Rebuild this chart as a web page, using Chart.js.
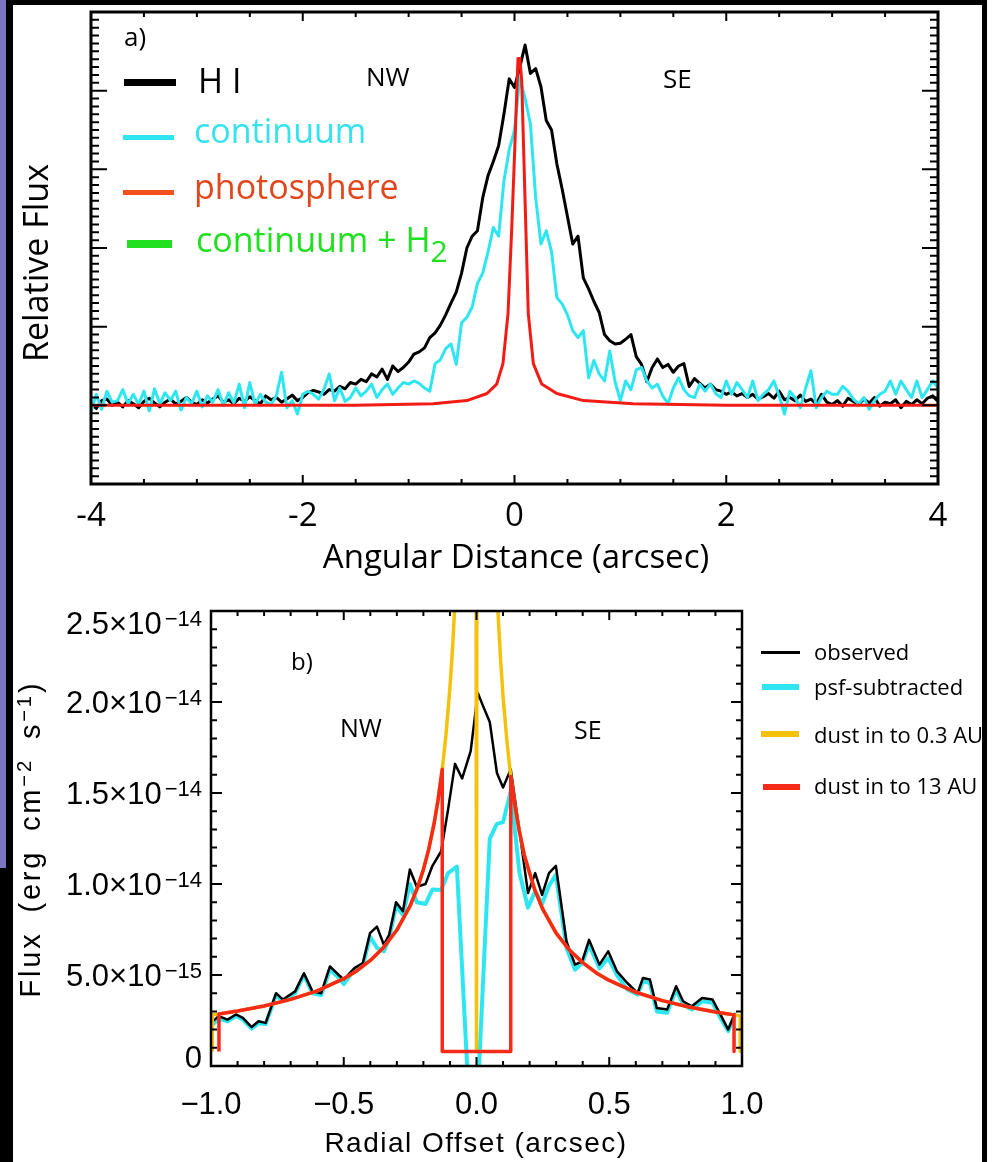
<!DOCTYPE html>
<html>
<head>
<meta charset="utf-8">
<title>H I and continuum radial profiles</title>
<script src="https://cdn.jsdelivr.net/npm/chart.js@4.4.1/dist/chart.umd.min.js"></script>
<style>
  html, body { margin: 0; padding: 0; background: #000; }
  body { width: 994px; height: 1162px; position: relative; overflow: hidden; }
  .block { position: absolute; }
  canvas { position: absolute; left: 0; }
  #labels { position: absolute; left: 0; top: 0; width: 982px; height: 1162px; overflow: hidden; }
  .lbl { position: absolute; white-space: nowrap; color: #000; }
  .mark { position: absolute; }
  .sub { position: relative; top: 10px; font-size: 30px; }
  .sup { position: relative; top: -0.45em; font-size: 0.7em; }
</style>
</head>
<body>
<div class="block" style="left:0;top:0;width:6px;height:868px;background:#7b75c2"></div>
<div class="block" style="left:13px;top:5px;width:969px;height:1157px;background:#fff"></div>
<div class="block" style="left:987px;top:0;width:7px;height:1162px;background:#fff"></div>
<canvas id="chart-a" width="994" height="590" style="top:0"></canvas>
<canvas id="chart-b" width="994" height="572" style="top:590px"></canvas>
<div id="labels"></div>
<script>
// ---- panel a) relative flux vs angular distance (arcsec)
const aX = [
  -4.00, -3.95, -3.90, -3.85, -3.80, -3.75, -3.70, -3.65, -3.60, -3.55,
  -3.50, -3.45, -3.40, -3.35, -3.30, -3.25, -3.20, -3.15, -3.10, -3.05,
  -3.00, -2.95, -2.90, -2.85, -2.80, -2.75, -2.70, -2.65, -2.60, -2.55,
  -2.50, -2.45, -2.40, -2.35, -2.30, -2.25, -2.20, -2.15, -2.10, -2.05,
  -2.00, -1.95, -1.90, -1.85, -1.80, -1.75, -1.70, -1.65, -1.60, -1.55,
  -1.50, -1.45, -1.40, -1.35, -1.30, -1.25, -1.20, -1.15, -1.10, -1.05,
  -1.00, -0.95, -0.90, -0.85, -0.80, -0.75, -0.70, -0.65, -0.60, -0.55,
  -0.50, -0.45, -0.40, -0.35, -0.30, -0.25, -0.20, -0.15, -0.10, -0.05,
  0.00, 0.05, 0.10, 0.15, 0.20, 0.25, 0.30, 0.35, 0.40, 0.45,
  0.50, 0.55, 0.60, 0.65, 0.70, 0.75, 0.80, 0.85, 0.90, 0.95,
  1.00, 1.05, 1.10, 1.15, 1.20, 1.25, 1.30, 1.35, 1.40, 1.45,
  1.50, 1.55, 1.60, 1.65, 1.70, 1.75, 1.80, 1.85, 1.90, 1.95,
  2.00, 2.05, 2.10, 2.15, 2.20, 2.25, 2.30, 2.35, 2.40, 2.45,
  2.50, 2.55, 2.60, 2.65, 2.70, 2.75, 2.80, 2.85, 2.90, 2.95,
  3.00, 3.05, 3.10, 3.15, 3.20, 3.25, 3.30, 3.35, 3.40, 3.45,
  3.50, 3.55, 3.60, 3.65, 3.70, 3.75, 3.80, 3.85, 3.90, 3.95,
  4.00
];
const aHI = [
  0.02, -0.04, 0.06, 0.08, 0.00, 0.04, -0.02, 0.06, 0.02, -0.03,
  0.05, 0.09, 0.03, -0.02, 0.04, 0.08, 0.02, 0.05, 0.10, 0.04,
  0.01, 0.07, 0.03, 0.08, 0.12, 0.04, 0.07, 0.02, 0.09, 0.05,
  0.11, 0.06, 0.02, 0.12, 0.07, 0.10, 0.04, 0.08, 0.13, 0.06,
  0.10, 0.16, 0.19, 0.17, 0.14, 0.20, 0.18, 0.24, 0.21, 0.29,
  0.27, 0.33, 0.30, 0.40, 0.36, 0.46, 0.33, 0.50, 0.43, 0.48,
  0.55, 0.65, 0.68, 0.73, 0.86, 0.92, 1.02, 1.15, 1.30, 1.44,
  1.68, 2.00, 2.15, 2.22, 2.64, 2.92, 3.10, 3.30, 3.70, 4.15,
  4.04, 4.30, 4.58, 4.22, 4.28, 4.05, 3.62, 3.50, 3.07, 2.75,
  2.40, 2.05, 2.15, 1.62, 1.48, 1.32, 1.18, 0.90, 0.82, 0.78,
  0.79, 0.84, 0.90, 0.62, 0.52, 0.30, 0.48, 0.59, 0.48, 0.52,
  0.42, 0.50, 0.53, 0.24, 0.34, 0.28, 0.22, 0.27, 0.20, 0.18,
  0.14, 0.17, 0.12, 0.15, 0.10, 0.14, 0.08, 0.11, 0.15, 0.09,
  0.18, 0.07, 0.10, 0.06, 0.13, 0.05, 0.08, 0.02, 0.14, 0.04,
  0.01, 0.06, -0.01, 0.09, 0.05, 0.01, 0.08, 0.03, 0.10, -0.01,
  0.04, 0.02, 0.07, -0.03, 0.05, 0.01, 0.07, 0.02, 0.09, 0.12,
  0.05
];
const aContinuum = [
  -0.08, 0.14, -0.05, 0.18, 0.04, 0.06, 0.20, 0.02, 0.14, 0.01,
  0.18, -0.07, 0.21, 0.02, 0.16, 0.06, 0.18, -0.06, 0.10, 0.02,
  0.18, -0.02, 0.12, 0.04, 0.20, 0.00, 0.16, 0.03, 0.27, -0.03,
  0.29, 0.01, 0.14, 0.04, 0.01, 0.12, 0.42, -0.03, 0.06, -0.11,
  0.14, 0.18, 0.14, 0.08, 0.20, 0.40, 0.06, 0.22, 0.05, 0.10,
  0.22, 0.12, 0.18, 0.27, 0.10, 0.20, 0.27, 0.14, 0.22, 0.29,
  0.27, 0.31, 0.28, 0.22, 0.18, 0.53, 0.58, 0.72, 0.78, 0.52,
  1.05, 1.12, 1.25, 1.55, 1.68, 1.95, 2.26, 2.15, 2.85, 3.25,
  3.50, 4.17, 3.90, 3.58, 2.64, 2.05, 2.22, 1.95, 1.37, 1.29,
  1.15, 0.95, 0.86, 0.95, 0.35, 0.57, 0.40, 0.31, 0.69, 0.30,
  0.06, 0.31, 0.20, 0.45, 0.48, 0.31, 0.22, 0.27, 0.12, 0.02,
  0.22, 0.35, 0.20, 0.12, 0.10, 0.27, 0.18, 0.27, 0.15, 0.10,
  0.31, 0.14, 0.29, 0.20, 0.10, 0.31, 0.06, 0.14, 0.20, 0.31,
  0.12, -0.11, 0.18, 0.10, -0.03, 0.22, 0.44, -0.03, 0.10, 0.18,
  0.14, 0.14, 0.24, 0.18, 0.08, 0.02, 0.10, -0.05, 0.06, 0.14,
  0.18, 0.31, 0.14, 0.31, 0.20, 0.10, 0.31, 0.10, 0.20, 0.31,
  0.22
];
const aPhotX = [-4.0, -1.5, -0.77, -0.45, -0.26, -0.168, -0.109, -0.061, -0.027, 0.003, 0.033,
                0.050, 0.068, 0.099, 0.130, 0.178, 0.257, 0.40, 0.65, 1.12, 2.0, 4.0];
const aPhotosphere = [0, 0, 0.02, 0.06, 0.15, 0.27, 0.53, 1.17, 2.22, 3.28, 4.41,
                      4.41, 4.13, 2.64, 1.17, 0.53, 0.27, 0.15, 0.06, 0.02, 0, 0];
const aXTicks = [-4, -2, 0, 2, 4];
const aXTickLabels = ['-4', '-2', '0', '2', '4'];

// ---- panel b) flux in units of 1e-15 erg cm^-2 s^-1 vs radial offset (arcsec)
const bObsX = [
  -1.0, -0.971, -0.938, -0.906, -0.880, -0.847, -0.821, -0.794, -0.755, -0.729,
  -0.683, -0.650, -0.618, -0.585, -0.552, -0.519, -0.500, -0.460, -0.428, -0.401,
  -0.375, -0.349, -0.329, -0.303, -0.277, -0.251, -0.225, -0.192, -0.166, -0.133,
  -0.107, -0.081, -0.054, -0.022, 0.005, 0.024, 0.050, 0.077, 0.100, 0.129,
  0.162, 0.194, 0.221, 0.247, 0.273, 0.299, 0.339, 0.371, 0.398, 0.424,
  0.463, 0.496, 0.529, 0.568, 0.607, 0.627, 0.653, 0.679, 0.718, 0.752,
  0.778, 0.811, 0.850, 0.889, 0.922, 0.948, 0.974
];
const bObserved = [
  2.37, 2.74, 2.55, 2.83, 2.65, 2.14, 2.46, 2.37, 4.0, 3.65,
  4.1, 5.1, 4.1, 4.0, 5.47, 5.0, 4.75, 5.38, 5.66, 7.3,
  7.66, 6.66, 7.2, 9.0, 8.5, 10.8, 9.85, 10.0, 11.0, 11.8,
  14.1, 16.6, 15.8, 17.3, 20.5, 19.8, 18.9, 16.1, 15.3, 16.3,
  12.9, 9.5, 10.6, 9.4, 10.6, 11.0, 6.84, 5.57, 5.75, 6.93,
  5.57, 6.3, 5.2, 4.56, 4.0, 4.84, 4.75, 3.19, 3.1, 4.38,
  3.56, 3.28, 3.74, 3.65, 2.74, 2.0, 2.92
];
const bPsfX = [
  -1.0, -0.971, -0.938, -0.906, -0.880, -0.847, -0.821, -0.794, -0.755, -0.729,
  -0.683, -0.650, -0.618, -0.585, -0.552, -0.519, -0.500, -0.460, -0.428, -0.401,
  -0.375, -0.349, -0.329, -0.303, -0.277, -0.251, -0.225, -0.192, -0.166, -0.133,
  -0.107, -0.074, -0.030, 0.005, 0.050, 0.077, 0.100, 0.129, 0.162, 0.194,
  0.221, 0.247, 0.273, 0.299, 0.339, 0.371, 0.398, 0.424, 0.463, 0.496,
  0.529, 0.568, 0.607, 0.627, 0.653, 0.679, 0.718, 0.752, 0.778, 0.811,
  0.850, 0.889, 0.922, 0.948, 0.974
];
const bPsfSubtracted = [
  2.2, 2.6, 2.45, 2.75, 2.55, 2.05, 2.35, 2.3, 3.9, 3.55,
  4.0, 5.0, 4.0, 3.9, 5.3, 4.85, 4.5, 5.3, 5.5, 7.1,
  6.5, 6.3, 7.0, 8.8, 8.3, 10.0, 9.0, 8.9, 9.7, 9.67,
  10.6, 10.95, -1.5, -1.5, 12.5, 13.3, 13.4, 15.1, 10.6, 8.7,
  9.6, 8.9, 9.9, 10.5, 6.48, 5.29, 5.66, 6.66, 5.38, 5.93,
  5.0, 4.2, 3.92, 4.65, 4.56, 3.0, 2.92, 4.2, 3.38, 3.1,
  3.56, 3.47, 2.55, 1.92, 2.83
];
const bDust03X = [
  -0.995, -0.995, -0.97, -0.9, -0.8, -0.7, -0.6, -0.5, -0.45, -0.4,
  -0.35, -0.3, -0.25, -0.22, -0.2, -0.18, -0.16, -0.145, -0.129, -0.115,
  -0.1, -0.09, -0.08, -0.07, -0.06, -0.05, -0.04, -0.03, -0.02, -0.01,
  0, 0.01, 0.02, 0.03, 0.04, 0.05, 0.06, 0.07, 0.08, 0.09,
  0.1, 0.115, 0.129, 0.145, 0.16, 0.18, 0.2, 0.22, 0.25, 0.3,
  0.35, 0.4, 0.45, 0.5, 0.6, 0.7, 0.8, 0.9, 0.97, 0.993,
  0.993
];
const bDust03 = [
  0.8, 2.81, 2.86, 3.02, 3.30, 3.66, 4.13, 4.80, 5.24, 5.80,
  6.51, 7.47, 8.80, 9.89, 10.8, 11.9, 13.3, 14.6, 16.3, 18.2,
  20.8, 23.0, 25.8, 29.4, 34.1, 40.8, 50.8, 67.5, 100.8, 200.8,
  0.8, 195.8, 98.3, 65.8, 49.6, 39.8, 33.3, 28.7, 25.2, 22.5,
  20.3, 17.8, 15.9, 14.3, 13.0, 11.6, 10.6, 9.66, 8.6, 7.3,
  6.37, 5.68, 5.13, 4.7, 4.05, 3.59, 3.24, 2.97, 2.81, 2.76,
  0.8
];
const bDust13X = [
  -0.97, -0.97, -0.9, -0.8, -0.7, -0.6, -0.5, -0.45, -0.4, -0.35,
  -0.3, -0.25, -0.22, -0.2, -0.18, -0.16, -0.145, -0.129, -0.129, 0.129,
  0.129, 0.145, 0.16, 0.18, 0.2, 0.22, 0.25, 0.3, 0.35, 0.4,
  0.45, 0.5, 0.6, 0.7, 0.8, 0.9, 0.97, 0.97
];
const bDust13 = [
  0.8, 2.86, 3.02, 3.30, 3.66, 4.13, 4.80, 5.24, 5.80, 6.51,
  7.47, 8.80, 9.89, 10.8, 11.9, 13.3, 14.6, 16.3, 0.8, 0.8,
  15.9, 14.3, 13.0, 11.6, 10.6, 9.66, 8.6, 7.3, 6.37, 5.68,
  5.13, 4.7, 4.05, 3.59, 3.24, 2.97, 2.81, 0.8
];
const bXTicks = [-1, -0.5, 0, 0.5, 1];
const bXTickLabels = ['\u22121.0', '\u22120.5', '0.0', '0.5', '1.0'];
const bYTicks = [0, 5, 10, 15, 20, 25];
const bYTickMantissa = ['0', '5.0', '1.0', '1.5', '2.0', '2.5'];
const bYTickExponent = ['', '\u221215', '\u221214', '\u221214', '\u221214', '\u221214'];

const COLORS = {
  cyan: '#2ee6f2',
  cyanText: '#36e2ec',
  photosphere: '#f21c14',
  photosphereKey: '#f2501e',
  photosphereText: '#e2461c',
  green: '#20e020',
  yellow: '#f4c20d',
  red: '#f52a18'
};

function toPoints(xs, ys) {
  return xs.map((x, i) => ({ x: x, y: ys[i] }));
}

function lineSet(label, xs, ys, color, width, order) {
  return {
    label: label,
    data: toPoints(xs, ys),
    showLine: true,
    borderColor: color,
    backgroundColor: color,
    borderWidth: width,
    borderJoinStyle: 'round',
    pointRadius: 0,
    tension: 0,
    order: order
  };
}

// Box frame with inward tick marks on all four sides, like the IDL plots
const frameTicks = {
  id: 'frameTicks',
  afterDatasetsDraw(chart, args, opts) {
    const { ctx, chartArea: area, scales } = chart;
    const x = scales.x;
    const y = scales.y;
    ctx.save();
    ctx.strokeStyle = '#000';
    ctx.lineWidth = opts.tickWidth;
    ctx.beginPath();
    const nx = Math.round((x.max - x.min) / opts.xMinor);
    const rx = Math.round(opts.xMajor / opts.xMinor);
    for (let i = 0; i <= nx; i++) {
      const px = x.getPixelForValue(x.min + i * opts.xMinor);
      const len = i % rx === 0 ? opts.xMajorLen : opts.xMinorLen;
      ctx.moveTo(px, area.bottom);
      ctx.lineTo(px, area.bottom - len);
      ctx.moveTo(px, area.top);
      ctx.lineTo(px, area.top + len);
    }
    const ny = Math.round((y.max - y.min) / opts.yMinor);
    const ry = Math.round(opts.yMajor / opts.yMinor);
    for (let i = 0; i <= ny; i++) {
      const py = y.getPixelForValue(y.min + i * opts.yMinor);
      const len = i % ry === 0 ? opts.yMajorLen : opts.yMinorLen;
      ctx.moveTo(area.left, py);
      ctx.lineTo(area.left + len, py);
      ctx.moveTo(area.right, py);
      ctx.lineTo(area.right - len, py);
    }
    ctx.stroke();
    ctx.lineWidth = opts.frameWidth;
    ctx.strokeRect(area.left, area.top, area.right - area.left, area.bottom - area.top);
    ctx.restore();
  }
};

// y labels of panel b) written as mantissa x 10^exponent
const bYLabels = {
  id: 'bYLabels',
  afterDraw(chart) {
    const { ctx, chartArea: area, scales } = chart;
    const y = scales.y;
    const right = area.left - 9;
    ctx.save();
    ctx.fillStyle = '#000';
    ctx.textAlign = 'right';
    ctx.textBaseline = 'alphabetic';
    bYTicks.forEach((v, i) => {
      // end labels are kept inside the frame height
      const cy = Math.min(Math.max(y.getPixelForValue(v), area.top + 12), area.bottom - 9);
      const base = cy + 11;
      const exp = bYTickExponent[i];
      let expWidth = 0;
      if (exp) {
        ctx.font = '22px "Liberation Sans"';
        expWidth = ctx.measureText(exp).width + 3;
        ctx.fillText(exp, right, base - 8);
      }
      ctx.font = '31px "Liberation Sans"';
      ctx.fillText(bYTickMantissa[i] + (exp ? '\u00d710' : ''), right - expWidth, base);
    });
    ctx.restore();
  }
};

function fixedTicks(values) {
  return scale => { scale.ticks = values.map(v => ({ value: v })); };
}

new Chart(document.getElementById('chart-a'), {
  type: 'scatter',
  data: {
    datasets: [
      lineSet('photosphere', aPhotX, aPhotosphere, COLORS.photosphere, 3, 0),
      lineSet('continuum', aX, aContinuum, COLORS.cyan, 3, 1),
      lineSet('H I', aX, aHI, '#000', 3, 2)
    ]
  },
  options: {
    responsive: false,
    animation: false,
    events: [],
    layout: { padding: { top: 12, right: 56, bottom: 0, left: 0 } },
    plugins: {
      legend: { display: false },
      tooltip: { enabled: false },
      frameTicks: {
        frameWidth: 3, tickWidth: 2,
        xMinor: 0.5, xMajor: 2, xMinorLen: 5, xMajorLen: 9,
        yMinor: 0.1, yMajor: 1, yMinorLen: 8, yMajorLen: 16
      }
    },
    scales: {
      x: {
        type: 'linear', min: -4, max: 4,
        grid: { display: false }, border: { display: false },
        afterBuildTicks: fixedTicks(aXTicks),
        ticks: {
          autoSkip: false, maxRotation: 0, padding: 5, color: '#000',
          font: { family: 'Open Sans', size: 33 },
          callback: (v, i) => aXTickLabels[i]
        },
        afterFit: s => { s.height = 106; }
      },
      y: {
        type: 'linear', min: -1, max: 5,
        grid: { display: false }, border: { display: false },
        ticks: { display: false },
        afterFit: s => { s.width = 91; }
      }
    }
  },
  plugins: [frameTicks]
});

new Chart(document.getElementById('chart-b'), {
  type: 'scatter',
  data: {
    datasets: [
      lineSet('dust in to 13 AU', bDust13X, bDust13, COLORS.red, 3.5, 0),
      lineSet('dust in to 0.3 AU', bDust03X, bDust03, COLORS.yellow, 3.5, 1),
      lineSet('observed', bObsX, bObserved, '#000', 2.5, 2),
      lineSet('psf-subtracted', bPsfX, bPsfSubtracted, COLORS.cyan, 4, 3)
    ]
  },
  options: {
    responsive: false,
    animation: false,
    events: [],
    layout: { padding: { top: 21, right: 252, bottom: 0, left: 0 } },
    plugins: {
      legend: { display: false },
      tooltip: { enabled: false },
      frameTicks: {
        frameWidth: 2.5, tickWidth: 2,
        xMinor: 0.1, xMajor: 0.5, xMinorLen: 5, xMajorLen: 9,
        yMinor: 1, yMajor: 5, yMinorLen: 6, yMajorLen: 11
      }
    },
    scales: {
      x: {
        type: 'linear', min: -1, max: 1,
        grid: { display: false }, border: { display: false },
        afterBuildTicks: fixedTicks(bXTicks),
        ticks: {
          autoSkip: false, maxRotation: 0, padding: 13, color: '#000',
          font: { family: 'Liberation Sans', size: 31 },
          callback: (v, i) => bXTickLabels[i]
        },
        afterFit: s => { s.height = 96; }
      },
      y: {
        type: 'linear', min: 0, max: 25,
        grid: { display: false }, border: { display: false },
        ticks: { display: false },
        afterFit: s => { s.width = 211; }
      }
    }
  },
  plugins: [frameTicks, bYLabels]
});

// ---- text, legends and annotations as HTML
const layer = document.getElementById('labels');
const BASELINE = { 'Open Sans': 0.888, 'Liberation Sans': 0.8465 };

function makeLabel(html, size, opts) {
  const family = opts.family || 'Open Sans';
  const el = document.createElement('div');
  el.className = 'lbl';
  el.innerHTML = html;
  el.style.fontFamily = '"' + family + '"';
  el.style.fontSize = size + 'px';
  el.style.lineHeight = size + 'px';
  el.style.color = opts.color || '#000';
  if (opts.spacing) el.style.letterSpacing = opts.spacing + 'px';
  if (opts.wordSpacing) el.style.wordSpacing = opts.wordSpacing + 'px';
  layer.appendChild(el);
  return el;
}

function addText(html, x, baseline, size, opts = {}) {
  const el = makeLabel(html, size, opts);
  const family = opts.family || 'Open Sans';
  el.style.left = x + 'px';
  el.style.top = (baseline - BASELINE[family] * size) + 'px';
  if (opts.center) el.style.transform = 'translateX(-50%)';
}

// rotated -90deg: the baseline runs along the right side of the letters
function addVerticalText(html, baselineX, centerY, size, opts = {}) {
  const el = makeLabel(html, size, opts);
  const family = opts.family || 'Open Sans';
  const cx = baselineX - (BASELINE[family] - 0.5) * size;
  el.style.left = cx + 'px';
  el.style.top = centerY + 'px';
  el.style.transform = 'translate(-50%, -50%) rotate(-90deg)';
}

function addSwatch(x1, x2, cy, h, color) {
  const el = document.createElement('div');
  el.className = 'mark';
  el.style.left = x1 + 'px';
  el.style.width = (x2 - x1) + 'px';
  el.style.top = (cy - h / 2) + 'px';
  el.style.height = h + 'px';
  el.style.background = color;
  layer.appendChild(el);
}

// panel a)
addText('a)', 124, 46, 26);
addText('NW', 366, 86, 26);
addText('SE', 663, 88, 26);
addSwatch(124, 176, 82.5, 7, '#000');
addSwatch(123, 174, 137, 5, COLORS.cyan);
addSwatch(123, 174, 192, 5, COLORS.photosphereKey);
addSwatch(127, 172, 244, 8, COLORS.green);
addText('H I', 198, 93, 34);
addText('continuum', 194, 143, 34, { color: COLORS.cyanText });
addText('photosphere', 194, 199, 34, { color: COLORS.photosphereText });
addText('continuum + H<span class="sub">2</span>', 196, 252, 34, { color: COLORS.green });
addText('Angular Distance (arcsec)', 516, 568, 33, { center: true });
addVerticalText('Relative Flux', 48, 263, 34);

// panel b)
addText('b)', 291, 670, 24);
addText('NW', 340, 737, 25);
addText('SE', 574, 739, 25);
addSwatch(761, 800, 652, 3, '#000');
addSwatch(762, 799, 687, 6, COLORS.cyan);
addSwatch(761, 799, 734, 6, COLORS.yellow);
addSwatch(763, 800, 787, 6, COLORS.red);
addText('observed', 814, 660, 22);
addText('psf-subtracted', 814, 695, 22);
addText('dust in to 0.3 AU', 814, 743, 22);
addText('dust in to 13 AU', 814, 794, 22);
addText('Radial Offset (arcsec)', 476, 1153, 28, { family: 'Liberation Sans', center: true, spacing: 1.5 });
addVerticalText('Flux (erg cm<span class="sup">\u22122</span> s<span class="sup">\u22121</span>)', 42, 839, 29,
  { family: 'Liberation Sans', spacing: 2.8, wordSpacing: 8 });
</script>
</body>
</html>
